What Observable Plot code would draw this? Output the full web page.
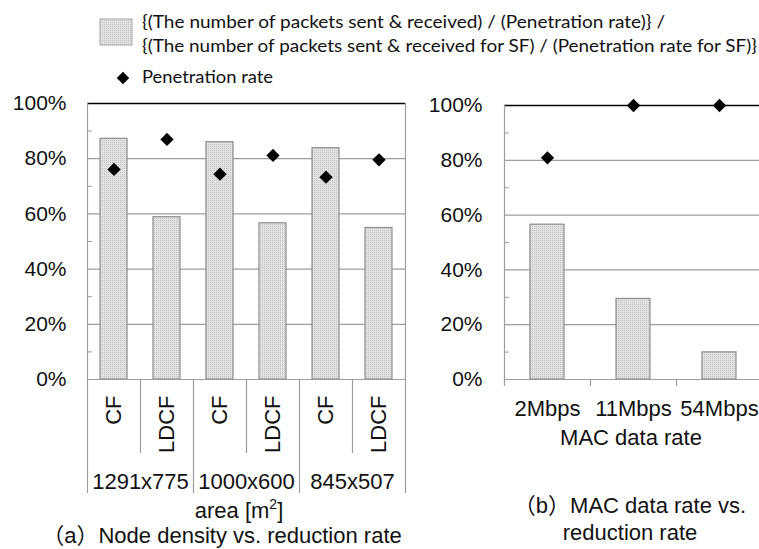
<!DOCTYPE html>
<html><head><meta charset="utf-8">
<script src="https://cdn.jsdelivr.net/npm/d3@7"></script>
<script src="https://cdn.jsdelivr.net/npm/@observablehq/plot@0.6"></script>
<style>
body{margin:0;background:#fff}
#wrap{position:relative;width:759px;height:549px;overflow:hidden;background:#fff}
#wrap > svg{position:absolute;top:0}
</style>
</head><body><div id="wrap"></div>
<script>
// ---- data ----
const groups = ["1291x775", "1000x600", "845x507"];
const methods = ["CF", "LDCF"];
const reductionA = [0.872, 0.588, 0.860, 0.566, 0.838, 0.549];
const penetrationA = [0.761, 0.870, 0.744, 0.812, 0.733, 0.796];
const rates = ["2Mbps", "11Mbps", "54Mbps"];
const reductionB = [0.565, 0.294, 0.099];
const penetrationB = [0.809, 1.0, 1.0];
const yTicks = [0, 0.2, 0.4, 0.6, 0.8, 1];
const gridTicks = [0.2, 0.4, 0.6, 0.8];
const minorTicks = [0.1, 0.3, 0.5, 0.7, 0.9];

const dataA = groups.flatMap((g, i) => methods.map((m, j) => ({
  key: `${g} ${m}`, group: g, method: m,
  reduction: reductionA[i * 2 + j], penetration: penetrationA[i * 2 + j]
})));
const keysA = dataA.map(d => d.key);
const groupStart = dataA.filter(d => d.method === "CF").map(d => d.key);
const groupInner = dataA.filter(d => d.method === "LDCF").map(d => d.key);
const dataB = rates.map((r, i) => ({key: r, reduction: reductionB[i], penetration: penetrationB[i]}));

const GRID = "#9d9d9d";
const pct = d3.format(".0%");
const wrap = document.getElementById("wrap");

// pattern defs
const defs = d3.select(wrap).append("svg").attr("width", 0).attr("height", 0).style("position","absolute");
const pat = defs.append("defs").append("pattern").attr("id", "dots")
  .attr("patternUnits", "userSpaceOnUse").attr("width", 2).attr("height", 2);
pat.append("rect").attr("width", 2).attr("height", 2).attr("fill", "#e2e2e2");
pat.append("rect").attr("width", 1).attr("height", 1).attr("fill", "#c4c4c4");

const baseStyle = {fontFamily: "'Liberation Sans', Arial, sans-serif", fontSize: "22px", color: "#111", background: "transparent", overflow: "visible"};
const H = 549;

// ---- left chart ----
const LW = 420, LML = 87, LMR = 15;
const stepA = (LW - LML - LMR) / keysA.length;
const left = Plot.plot({
  width: LW, height: H, marginLeft: LML, marginRight: LMR, marginTop: 103, marginBottom: 170,
  style: baseStyle,
  x: {domain: keysA, paddingInner: 0.49, paddingOuter: 0.245, label: null},
  y: {domain: [0, 1], label: null},
  marks: [
    Plot.ruleY(gridTicks, {stroke: GRID, strokeWidth: 1.2}),
    Plot.ruleY([1], {stroke: "#000", strokeWidth: 1.3}),
    Plot.barY(dataA, {x: "key", y: "reduction", fill: "url(#dots)", stroke: "#8c8c8c", strokeWidth: 1.2}),
    Plot.dot(dataA, {x: "key", y: "penetration", symbol: "diamond2", r: 6, fill: "#000", stroke: null}),
    Plot.ruleY([0], {stroke: GRID, strokeWidth: 1.2}),
    Plot.frame({anchor: "left", stroke: GRID, strokeWidth: 1.2}),
    Plot.frame({anchor: "right", stroke: GRID, strokeWidth: 1.2}),
    Plot.axisY(yTicks, {tickSize: 0, tickPadding: 21, tickFormat: pct, fontSize: 21, label: null}),
    Plot.axisY(minorTicks, {tickSize: -5, tickFormat: () => "", stroke: GRID, label: null}),
    Plot.axisX(groupStart, {tickSize: 114, tickFormat: () => "", dx: -stepA / 2, stroke: GRID, strokeWidth: 1.2, label: null}),
    Plot.axisX([keysA[keysA.length - 1]], {tickSize: 114, tickFormat: () => "", dx: stepA / 2, stroke: GRID, strokeWidth: 1.2, label: null}),
    Plot.axisX(groupInner, {tickSize: 74, tickFormat: () => "", dx: -stepA / 2, stroke: GRID, strokeWidth: 1.2, label: null}),
    Plot.axisX(keysA, {tickSize: 0, tickPadding: 16, tickRotate: -90, tickFormat: d => d.split(" ")[1], fontSize: 22, label: null}),
    Plot.axisX(groupInner, {tickSize: 0, tickPadding: 94, tickFormat: d => d.split(" ")[0], dx: -stepA / 2, fontSize: 22, label: null})
  ]
});
left.style.left = "0px";
wrap.appendChild(left);

// ---- right chart ----
const RW = 382, RML = 124, RMR = 0;
const stepB = (RW - RML - RMR) / rates.length;
const right = Plot.plot({
  width: RW, height: H, marginLeft: RML, marginRight: RMR, marginTop: 105, marginBottom: 170,
  style: baseStyle,
  x: {domain: rates, paddingInner: 0.605, paddingOuter: 0.3025, label: null},
  y: {domain: [0, 1], label: null},
  marks: [
    Plot.ruleY(gridTicks, {stroke: GRID, strokeWidth: 1.2}),
    Plot.ruleY([1], {stroke: "#000", strokeWidth: 1.3}),
    Plot.barY(dataB, {x: "key", y: "reduction", fill: "url(#dots)", stroke: "#8c8c8c", strokeWidth: 1.2}),
    Plot.dot(dataB, {x: "key", y: "penetration", symbol: "diamond2", r: 6, fill: "#000", stroke: null}),
    Plot.ruleY([0], {stroke: GRID, strokeWidth: 1.2}),
    Plot.frame({anchor: "left", stroke: GRID, strokeWidth: 1.2}),
    Plot.axisY(yTicks, {tickSize: 0, tickPadding: 22, tickFormat: pct, fontSize: 21, label: null}),
    Plot.axisY(minorTicks, {tickSize: -5, tickFormat: () => "", stroke: GRID, label: null}),
    Plot.axisX(rates, {tickSize: 7, tickFormat: () => "", dx: -stepB / 2, stroke: GRID, strokeWidth: 1.2, label: null}),
    Plot.axisX(rates, {tickSize: 0, tickPadding: 21, fontSize: 22, label: null})
  ]
});
right.style.left = "380px";
wrap.appendChild(right);

// ---- overlay: legend, axis titles, captions ----
const ov = d3.select(wrap).append("svg").attr("width", 759).attr("height", 549)
  .style("left", "0px").style("pointer-events", "none");
const lg = ov.append("g").attr("font-family", "Lato, 'Open Sans', sans-serif").attr("font-size", 17).attr("fill", "#111");
lg.append("rect").attr("x", 100).attr("y", 19).attr("width", 32).attr("height", 26)
  .attr("fill", "url(#dots)").attr("stroke", "#a5a5a5");
lg.append("text").attr("x", 142).attr("y", 28).attr("textLength", 523).attr("lengthAdjust", "spacingAndGlyphs")
  .text("{(The number of packets sent & received) / (Penetration rate)} /");
lg.append("text").attr("x", 142).attr("y", 52).attr("textLength", 615).attr("lengthAdjust", "spacingAndGlyphs")
  .text("{(The number of packets sent & received for SF) / (Penetration rate for SF)}");
lg.append("path").attr("d", d3.symbol(d3.symbolDiamond2, 100)()).attr("transform", "translate(123,78)").attr("fill", "#000");
lg.append("text").attr("x", 142).attr("y", 83).attr("textLength", 131).attr("lengthAdjust", "spacingAndGlyphs")
  .text("Penetration rate");

const tx = ov.append("g").attr("font-family", "'Liberation Sans', Arial, 'Noto Sans CJK JP', sans-serif").attr("font-size", 22).attr("fill", "#111").attr("text-anchor", "middle");
const area = tx.append("text").attr("x", 239).attr("y", 518);
area.append("tspan").text("area [m");
area.append("tspan").attr("font-size", 14).attr("dy", -9).text("2");
area.append("tspan").attr("dy", 9).text("]");
tx.append("text").attr("x", 631).attr("y", 445).text("MAC data rate");
tx.append("text").attr("x", 222).attr("y", 543).text("（a）Node density vs. reduction rate");
tx.append("text").attr("x", 630).attr("y", 513).text("（b）MAC data rate vs.");
tx.append("text").attr("x", 630).attr("y", 540).text("reduction rate");
</script></body></html>
